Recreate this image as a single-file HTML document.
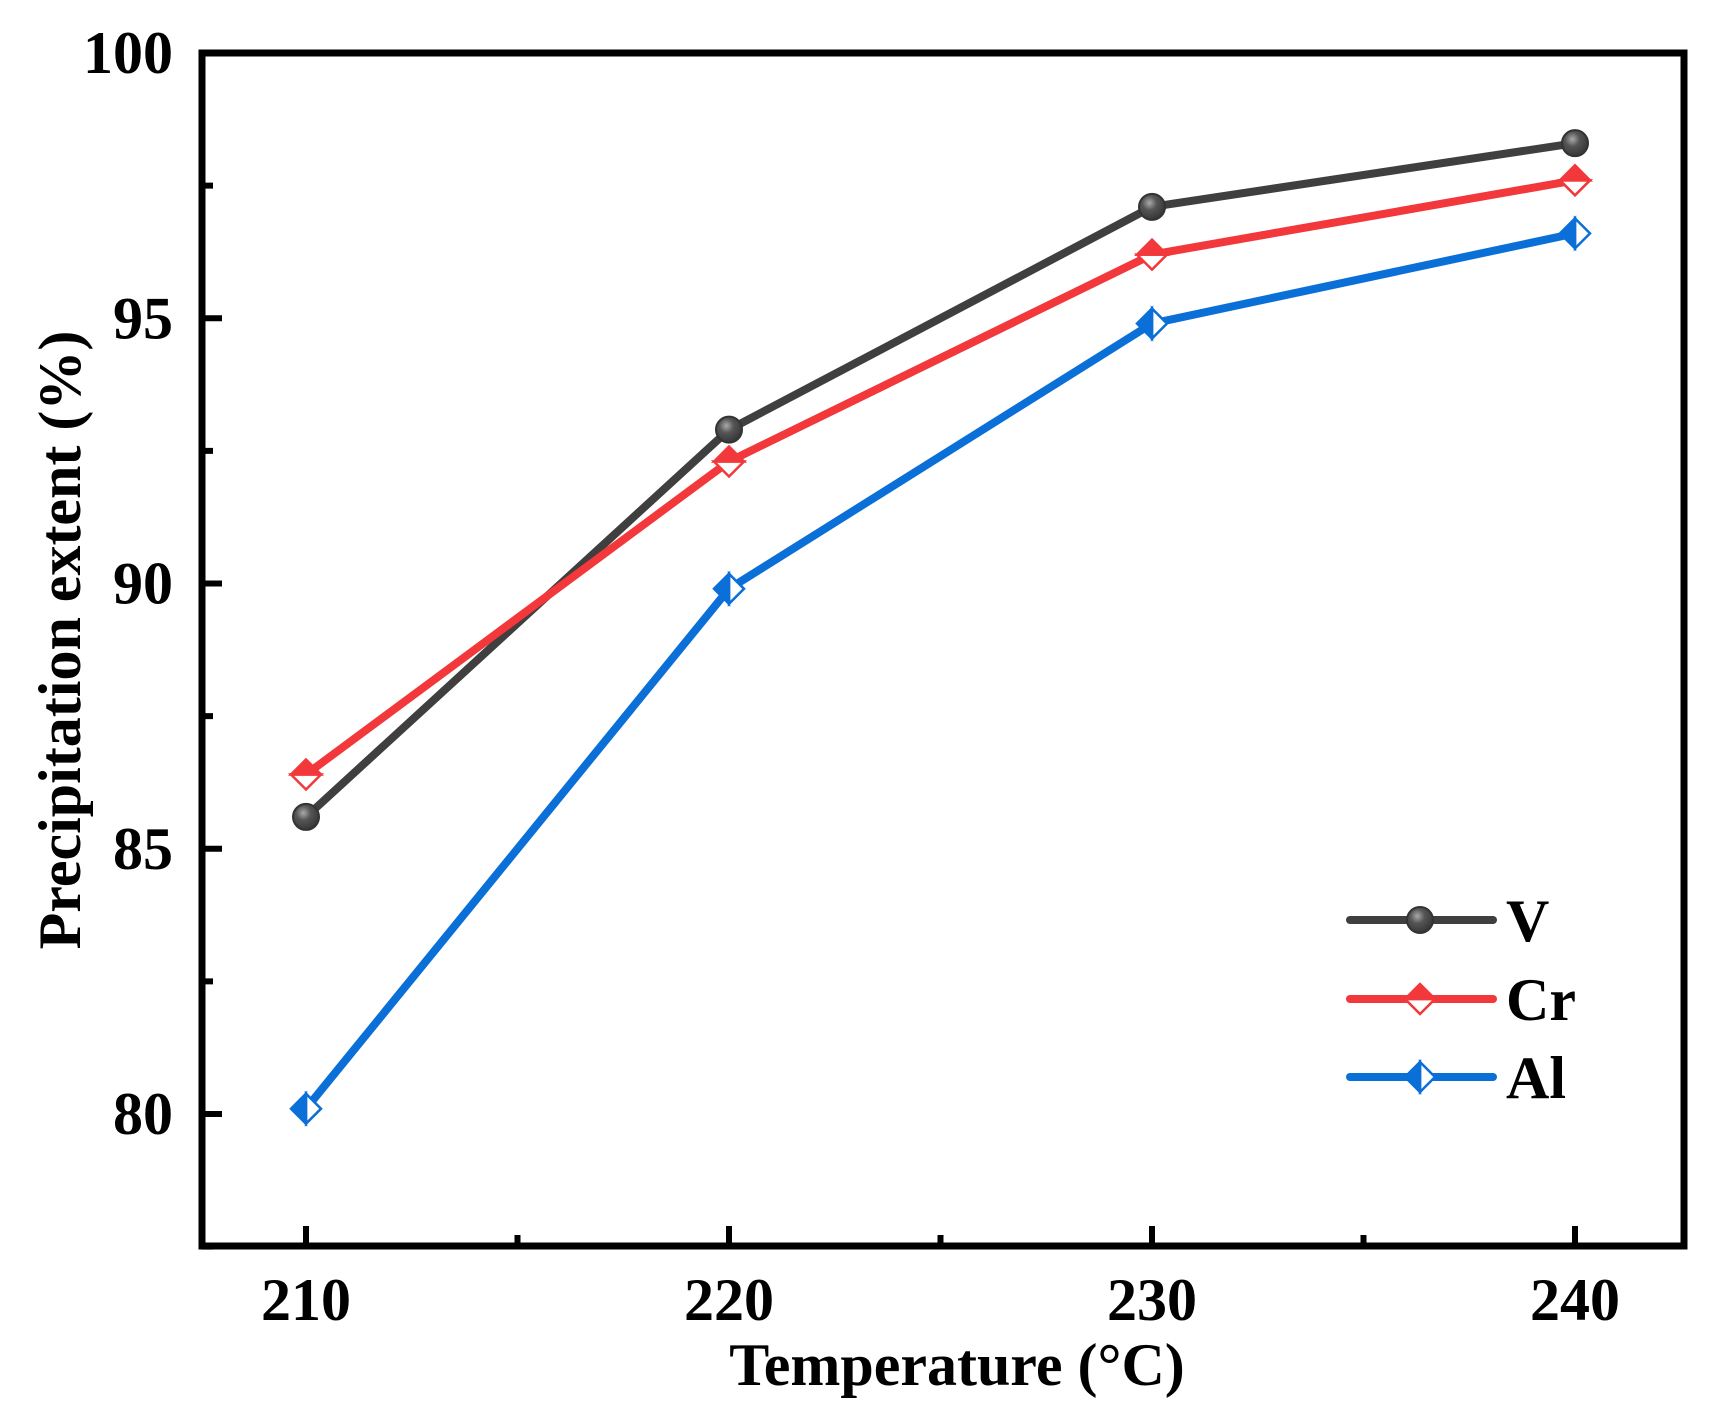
<!DOCTYPE html>
<html><head><meta charset="utf-8"><style>
html,body{margin:0;padding:0;background:#fff;}
svg{display:block;}
text{font-family:"Liberation Serif",serif;font-weight:bold;fill:#000;}
</style></head><body>
<svg id="chart" width="1718" height="1417" viewBox="0 0 1718 1417">
<defs>
<radialGradient id="ball" cx="0.4" cy="0.35" r="0.7"><stop offset="0" stop-color="#aaa"/><stop offset="0.4" stop-color="#555"/><stop offset="1" stop-color="#333"/></radialGradient>
</defs>
<g id="plot"></g>
</svg>
<script>
const categories = [210, 220, 230, 240];
const seriesV = [85.6, 92.9, 97.1, 98.3];
const seriesCr = [86.4, 92.3, 96.2, 97.6];
const seriesAl = [80.1, 89.9, 94.9, 96.6];
const yTicks = [80, 85, 90, 95, 100];
const yTickLabels = ["80", "85", "90", "95", "100"];
const xTickLabels = ["210", "220", "230", "240"];
const seriesNames = ["V", "Cr", "Al"];

const NS = "http://www.w3.org/2000/svg";
const g = document.getElementById('plot');
const L = 202, R = 1684, T = 53, B = 1246;
function xs(v){ return 306 + (v - 210) * 42.3; }
function ys(v){ return 53 + (100 - v) * 53.05; }
function mk(tag, attrs, parent){
  const e = document.createElementNS(NS, tag);
  for (const k in attrs) e.setAttribute(k, attrs[k]);
  (parent || g).appendChild(e);
  return e;
}
let frame = mk('rect', {x:L, y:T, width:R-L, height:B-T, fill:'none', stroke:'#000', 'stroke-width':7});


yTicks.forEach((v,i)=>{
  const t = mk('line', {x1:L, x2:L+20, y1:ys(v), y2:ys(v), stroke:'#000', 'stroke-width':6});
  
  
  const m = mk('line', {x1:L, x2:L+11, y1:ys(v+2.5), y2:ys(v+2.5), stroke:'#000', 'stroke-width':6});
  
  
  const tx = mk('text', {x:173, y:ys(v)+20, 'text-anchor':'end', 'font-size':60});
  tx.textContent = yTickLabels[i];
  
  
});
{
  const m = mk('line', {x1:L, x2:L+11, y1:ys(77.5), y2:ys(77.5), stroke:'#000', 'stroke-width':6});
  
  
}
categories.forEach((c,i)=>{
  const t = mk('line', {x1:xs(c), x2:xs(c), y1:B, y2:B-20, stroke:'#000', 'stroke-width':6});
  
  
  if (i < categories.length - 1) {
    const m = mk('line', {x1:xs(c+5), x2:xs(c+5), y1:B, y2:B-11, stroke:'#000', 'stroke-width':6});
    
    
  }
  const tx = mk('text', {x:xs(c), y:1320, 'text-anchor':'middle', 'font-size':60});
  tx.textContent = xTickLabels[i];
  
  
});
let xt = mk('text', {x:957, y:1385, 'text-anchor':'middle', 'font-size':60});
xt.textContent = 'Temperature (°C)';


let yt = mk('text', {x:0, y:0, 'text-anchor':'middle', 'font-size':60, transform:'translate(80,640) rotate(-90)'});
yt.textContent = 'Precipitation extent (%)';



const colors = ['#3f3f3f', '#f2383a', '#0b6fd8'];
const allSeries = [seriesV, seriesCr, seriesAl];
function marker(type, x, y, col, parent){
  if (type === 0) {
    const c = mk('circle', {cx:x, cy:y, r:13, fill:'url(#ball)', stroke:'#333', 'stroke-width':2}, parent);
    
    
  } else if (type === 1) {
    const s = 15;
    const d = mk('path', {d:`M${x-s},${y} L${x},${y+s} L${x+s},${y} Z`, fill:'#fff', stroke:col, 'stroke-width':2.5}, parent);
    
    
    const u = mk('path', {d:`M${x-s},${y} L${x},${y-s} L${x+s},${y} Z`, fill:col, stroke:col, 'stroke-width':2.5}, parent);
    
    
  } else {
    const s = 15;
    const r = mk('path', {d:`M${x},${y-s} L${x+s},${y} L${x},${y+s} Z`, fill:'#fff', stroke:col, 'stroke-width':2.5}, parent);
    
    
    const l = mk('path', {d:`M${x},${y-s} L${x-s},${y} L${x},${y+s} Z`, fill:col, stroke:col, 'stroke-width':2.5}, parent);
    
    
  }
}
allSeries.forEach((s, si)=>{
  const pts = s.map((v,i)=> xs(categories[i]) + ',' + ys(v)).join(' ');
  const pl = mk('polyline', {points:pts, fill:'none', stroke:colors[si], 'stroke-width':8, 'stroke-linejoin':'round'});
  
  
});
allSeries.forEach((s, si)=>{
  s.forEach((v,i)=> marker(si, xs(categories[i]), ys(v), colors[si]));
});
const legY = [920, 999, 1077];
const lg = mk('g', {});


seriesNames.forEach((n, i)=>{
  const ln = mk('line', {x1:1350, x2:1493, y1:legY[i], y2:legY[i], stroke:colors[i], 'stroke-width':8, 'stroke-linecap':'round'}, lg);
  
  
  marker(i, 1420, legY[i], colors[i], lg);
  const tx = mk('text', {x:1506, y:legY[i]+21, 'font-size':60}, lg);
  tx.textContent = n;
  
  
});
</script>
</body></html>
